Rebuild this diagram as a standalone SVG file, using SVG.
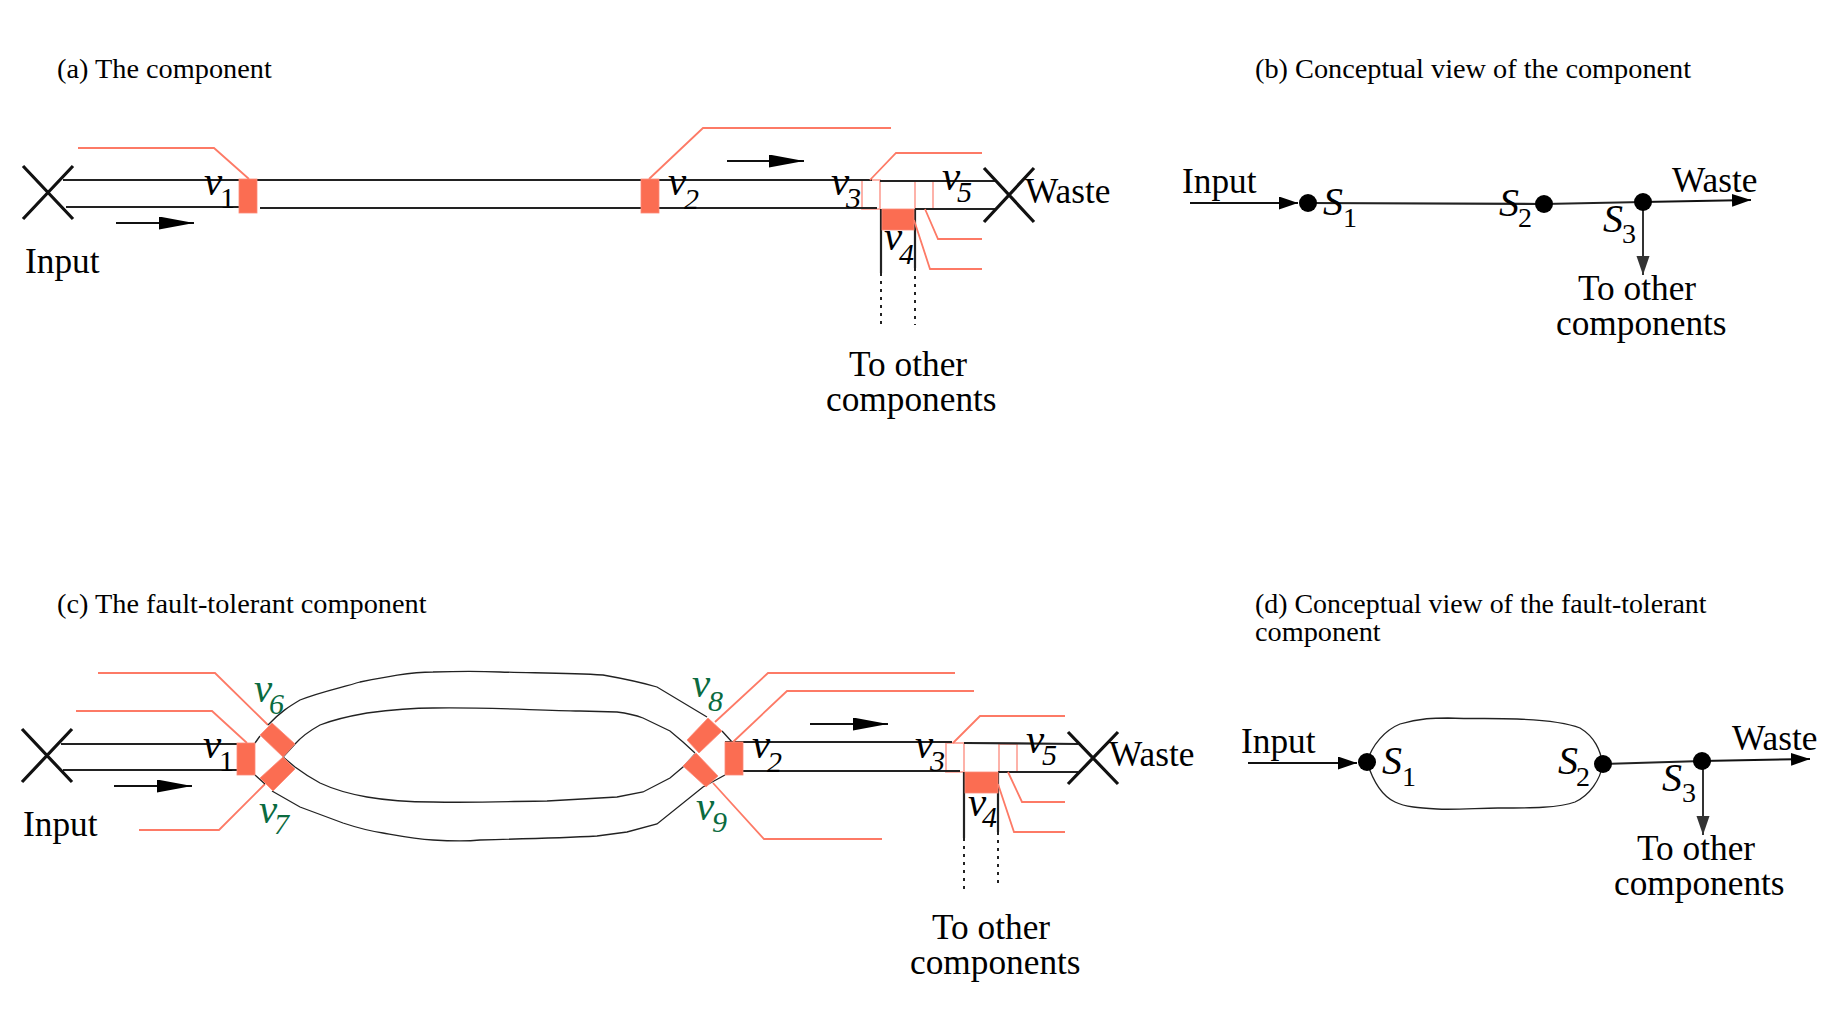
<svg xmlns="http://www.w3.org/2000/svg" width="1838" height="1022" viewBox="0 0 1838 1022">
<style>
text{font-family:"Liberation Serif","Times New Roman",serif;fill:#000}
.t{font-size:28.3px}
.t2{font-size:27.9px}
.l{font-size:35.3px}
.v{font-size:41px;font-style:italic}
.v tspan{font-size:30px}
.v tspan.u{font-style:normal}
.g{fill:#0b6b3f}
.s{font-size:40px;font-style:italic}
.s tspan{font-size:28px;font-style:normal}
.w{fill:none;stroke:#222;stroke-width:2.2}
.th{fill:none;stroke:#222;stroke-width:1.3}
.x{fill:none;stroke:#111;stroke-width:3.2}
.d{fill:none;stroke:#222;stroke-width:2;stroke-dasharray:3 5}
.r{fill:none;stroke:#fd7a66;stroke-width:1.8}
.o{fill:none;stroke:#fdaaa0;stroke-width:1.8}
.b{fill:#fb6d52;stroke:#fd8a78;stroke-width:.8}
.a{fill:none;stroke:#111;stroke-width:2;marker-end:url(#big)}
.n{fill:none;stroke:#111;stroke-width:2;marker-end:url(#small)}
.n2{fill:none;stroke:#333;stroke-width:2;marker-end:url(#small2)}
.dot{fill:#000}
</style>
<defs>
<marker id="big" markerUnits="userSpaceOnUse" markerWidth="36" markerHeight="14" refX="35" refY="6.5" orient="auto"><path d="M0 0L35 6.5L0 13Z" fill="#000"/></marker>
<marker id="small" markerUnits="userSpaceOnUse" markerWidth="20" markerHeight="14" refX="19" refY="6.5" orient="auto"><path d="M0 0L19 6.5L0 13Z" fill="#000"/></marker>
<marker id="small2" markerUnits="userSpaceOnUse" markerWidth="20" markerHeight="14" refX="19" refY="6.5" orient="auto"><path d="M0 0L19 6.5L0 13Z" fill="#333"/></marker>
</defs>

<g id="titles">
<text class="t" x="57" y="78">(a) The component</text>
<text class="t" x="1255" y="78">(b) Conceptual view of the component</text>
<text class="t" x="57" y="613">(c) The fault-tolerant component</text>
<text class="t2" x="1255" y="613">(d) Conceptual view of the fault-tolerant</text>
<text class="t" x="1255" y="641">component</text>
</g>

<g id="open-valves">
<rect id="a-v3" class="o" x="862" y="180" width="18" height="29"/>
<rect id="a-v5" class="o" x="915" y="181" width="18" height="28"/>
<rect id="c-v3" class="o" x="946" y="743" width="18" height="29"/>
<rect id="c-v5" class="o" x="999" y="744" width="18" height="28"/>
</g>

<g id="connectors">
<!-- panel a -->
<path class="w" d="M63 180H872M880 181H995M66 207H240M260 208H877M915 209H995"/>
<path class="w" d="M881 209V273M915 209V268"/>
<path class="d" d="M881 273V326M915 268V325"/>
<path class="r" d="M78 148H214L249 179M649 179L703 128H891M870 180L896 153H982M925 209L938 239H982M914 220L930 269H982"/>
<path class="a" d="M116 223H194"/>
<path class="a" d="M727 161H804"/>
<!-- panel b -->
<path class="n" d="M1190 203H1298"/>
<path class="w" d="M1308 203L1544 204L1643 202"/>
<path class="n" d="M1643 202L1751 200"/>
<path class="n2" d="M1643 202V275"/>
<!-- panel c -->
<path class="w" d="M61 744H237M63 770H237M725 742H952M964 743L1078 744M743 771H960M998 772H1078"/>
<path class="w" d="M964 772V838M998 772V832"/>
<path class="d" d="M964 838V889M998 832V888"/>
<path class="r" d="M76 711H212L247 743M98 673H215L268 725M139 830H219L265 784M715 722L768 673H955M733 742L787 691H974M713 783L764 839H882M953 743L980 716H1065M1008 772L1022 802H1065M998 784L1014 832H1065"/>
<path class="th" d="M268 725C280 712 290 706 300 700C320 692 340 688 360 682C385 677 410 672 433 672C460 671 480 671 500 672C535 673 570 673 603 675C620 678 640 682 657 687L707 717"/>
<path class="th" d="M295 744C303 735 311 730 320 725C335 719 350 716 367 713C390 710 410 708 433 708C480 707 530 710 580 711L617 712C625 713 635 715 643 718L670 731L683 742L695 753"/>
<path class="th" d="M283 757L295 767C303 773 311 778 320 783C335 790 350 794 367 797C390 801 410 802 433 802C480 803 520 801 547 801L617 797L643 792L670 778L683 767L695 754"/>
<path class="th" d="M272 791L300 807L343 823C355 827 370 831 383 833C400 836 415 839 433 840C450 841 470 841 480 840C520 839 560 838 597 836L627 832L657 824L703 787L725 775"/>
<path class="th" d="M255 743L260 736M255 775L265 784M283 757L295 744M722 731L732 742"/>
<path class="a" d="M114 786H192"/>
<path class="a" d="M810 724H888"/>
<!-- panel d -->
<path class="th" d="M1367 762C1372 745 1385 730 1400 724C1420 718 1435 718 1448 718C1475 719 1495 718 1517 719C1545 720 1565 722 1580 728C1595 737 1600 750 1603 764C1600 780 1590 795 1575 802C1560 808 1530 808 1498 808C1480 808 1455 810 1437 809C1420 808 1405 807 1395 802C1380 795 1372 778 1367 762Z"/>
<path class="n" d="M1248 763H1357"/>
<path class="w" d="M1603 764L1702 761"/>
<path class="n" d="M1702 761L1810 759"/>
<path class="n2" d="M1703 761V835"/>
</g>

<g id="valves-a">
<rect id="a-v1" class="b" x="239" y="179" width="18" height="34"/>
<rect id="a-v2" class="b" x="641" y="179" width="18" height="34"/>
<rect id="a-v4" class="b" x="882" y="209" width="32" height="21"/>
</g>
<g id="crosses">
<path class="x" d="M23 166L73 219M73 166L23 219"/>
<path class="x" d="M984 168L1034 222M1034 168L984 222"/>
<path class="x" d="M22 729L72 782M72 729L22 782"/>
<path class="x" d="M1068 732L1118 784M1118 732L1068 784"/>
</g>
<g id="valves-c">
<rect id="c-v1" class="b" x="237" y="743" width="18" height="32"/>
<polygon id="c-v6" class="b" points="272,723 295,744 283,757 260,735"/>
<polygon id="c-v7" class="b" points="283,757 295,769 273,791 260,778"/>
<polygon id="c-v8" class="b" points="708,718 722,731 699,753 687,740"/>
<polygon id="c-v9" class="b" points="696,753 718,776 706,787 683,766"/>
<rect id="c-v2" class="b" x="725" y="742" width="18" height="33"/>
<rect id="c-v4" class="b" x="965" y="772" width="33" height="21"/>
</g>
<g id="dots-b">
<circle id="b-s1d" class="dot" cx="1308" cy="203" r="9"/>
<circle id="b-s2d" class="dot" cx="1544" cy="204" r="9"/>
<circle id="b-s3d" class="dot" cx="1643" cy="202" r="9"/>
</g>
<g id="dots-d">
<circle id="d-s1d" class="dot" cx="1367" cy="762" r="9"/>
<circle id="d-s2d" class="dot" cx="1603" cy="764" r="9"/>
<circle id="d-s3d" class="dot" cx="1702" cy="761" r="9"/>
</g>

<g id="labels-a">
<text class="l" x="25" y="273">Input</text>
<text class="l" x="1025" y="203">Waste</text>
<text class="l" x="849" y="376">To other</text>
<text class="l" x="826" y="411">components</text>
<text class="v" x="204" y="195">v<tspan class="u" x="220" y="208">1</tspan></text>
<text class="v" x="668" y="195">v<tspan x="684" y="209">2</tspan></text>
<text class="v" x="831" y="195">v<tspan x="846" y="208">3</tspan></text>
<text class="v" x="884" y="250">v<tspan x="899" y="264">4</tspan></text>
<text class="v" x="942" y="190">v<tspan x="957" y="202">5</tspan></text>
</g>
<g id="labels-b">
<text class="l" x="1182" y="193">Input</text>
<text class="l" x="1672" y="192">Waste</text>
<text class="l" x="1578" y="300">To other</text>
<text class="l" x="1556" y="335">components</text>
<text class="s" x="1323" y="215">S<tspan x="1343" y="227">1</tspan></text>
<text class="s" x="1499" y="216">S<tspan x="1518" y="227">2</tspan></text>
<text class="s" x="1603" y="232">S<tspan x="1622" y="243">3</tspan></text>
</g>
<g id="labels-c">
<text class="l" x="23" y="836">Input</text>
<text class="l" x="1109" y="766">Waste</text>
<text class="l" x="932" y="939">To other</text>
<text class="l" x="910" y="974">components</text>
<text class="v" x="203" y="758">v<tspan class="u" x="219" y="771">1</tspan></text>
<text class="v" x="752" y="758">v<tspan x="767" y="772">2</tspan></text>
<text class="v" x="915" y="758">v<tspan x="930" y="771">3</tspan></text>
<text class="v" x="968" y="816">v<tspan x="982" y="827">4</tspan></text>
<text class="v" x="1026" y="753">v<tspan x="1042" y="765">5</tspan></text>
<text class="v g" x="254" y="702">v<tspan class="g" x="269" y="714">6</tspan></text>
<text class="v g" x="259" y="823">v<tspan class="g" x="274" y="834">7</tspan></text>
<text class="v g" x="692" y="697">v<tspan class="g" x="708" y="711">8</tspan></text>
<text class="v g" x="696" y="820">v<tspan class="g" x="712" y="832">9</tspan></text>
</g>
<g id="labels-d">
<text class="l" x="1241" y="753">Input</text>
<text class="l" x="1732" y="750">Waste</text>
<text class="l" x="1637" y="860">To other</text>
<text class="l" x="1614" y="895">components</text>
<text class="s" x="1382" y="774">S<tspan x="1402" y="786">1</tspan></text>
<text class="s" x="1558" y="774">S<tspan x="1576" y="786">2</tspan></text>
<text class="s" x="1662" y="791">S<tspan x="1682" y="802">3</tspan></text>
</g>
</svg>
